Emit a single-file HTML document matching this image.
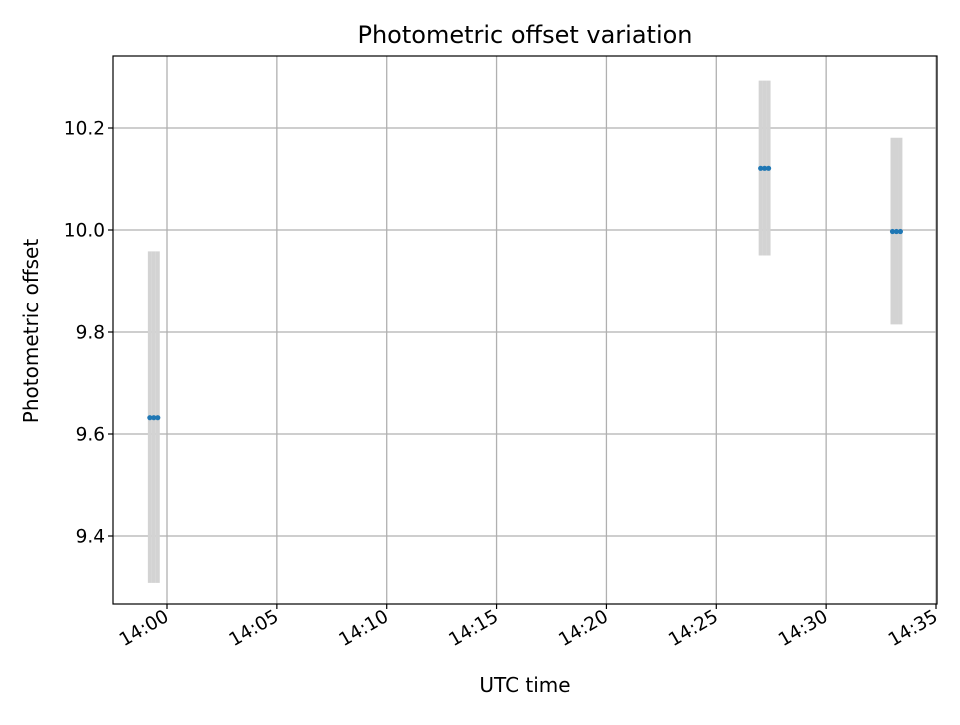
<!DOCTYPE html>
<html><head><meta charset="utf-8"><style>
body{margin:0;background:#fff;font-family:"Liberation Sans","DejaVu Sans",sans-serif;}
svg text{font-family:"DejaVu Sans","Liberation Sans",sans-serif;}
</style></head><body>
<svg id="chart" width="960" height="720" xmlns="http://www.w3.org/2000/svg">
<rect width="960" height="720" fill="#fff"/>
<g id="grid"></g><g id="marks"></g><g id="axes"></g>
<text x="525" y="43" font-size="24" text-anchor="middle">Photometric offset variation</text>
<text x="525" y="692" font-size="20" text-anchor="middle">UTC time</text>
<text x="38" y="331" font-size="20" text-anchor="middle" transform="rotate(-90 38 331)">Photometric offset</text>
</svg>
<script>
// times in minutes after 14:00 UTC
const times=[-0.78,-0.6,-0.42,27.02,27.2,27.38,33.02,33.2,33.38];
const offsets=[9.632,9.632,9.632,10.121,10.121,10.121,9.997,9.997,9.997];
const errLow=[9.308,9.308,9.308,9.950,9.950,9.950,9.815,9.815,9.815];
const errHigh=[9.958,9.958,9.958,10.293,10.293,10.293,10.181,10.181,10.181];
const xTickLabels=["14:00","14:05","14:10","14:15","14:20","14:25","14:30","14:35"];
const xTickValues=[0,5,10,15,20,25,30,35];
const yTickValues=[9.4,9.6,9.8,10.0,10.2];
const yTickLabels=["9.4","9.6","9.8","10.0","10.2"];
const L=113,R=937,T=56,B=604;
const x=t=>167+(t-0)*(936-167)/35;
const y=v=>230+(10.0-v)*(230-128)/0.2;
const NS="http://www.w3.org/2000/svg";
function mk(p,tag,at){const e=document.createElementNS(NS,tag);for(const k in at)e.setAttribute(k,at[k]);p.appendChild(e);return e;}
const grid=document.getElementById('grid'),marks=document.getElementById('marks'),axes=document.getElementById('axes');
xTickValues.forEach((v,i)=>{const X=x(v);
 const g=mk(grid,'line',{x1:X,x2:X,y1:T,y2:B,stroke:'#b0b0b0','stroke-width':1.3});
 
 
 mk(axes,'line',{x1:X,x2:X,y1:B,y2:B+5,stroke:'#000','stroke-width':1.2});
 const t=mk(axes,'text',{x:X+3,y:B+16,'font-size':18.5,'text-anchor':'end',transform:`rotate(-30 ${X+3} ${B+16})`});
 t.textContent=xTickLabels[i];
 
 
});
yTickValues.forEach((v,i)=>{const Y=y(v);
 const g=mk(grid,'line',{x1:L,x2:R,y1:Y,y2:Y,stroke:'#b0b0b0','stroke-width':1.3});
 
 
 mk(axes,'line',{x1:L-5,x2:L,y1:Y,y2:Y,stroke:'#000','stroke-width':1.2});
 const t=mk(axes,'text',{x:L-8,y:Y+6.5,'font-size':18.5,'text-anchor':'end'});
 t.textContent=yTickLabels[i];
 
 
});
times.forEach((t,i)=>{
 const e=mk(marks,'line',{x1:x(t),x2:x(t),y1:y(errLow[i]),y2:y(errHigh[i]),stroke:'#d3d3d3','stroke-width':4});
 
 
});
times.forEach((t,i)=>{
 const c=mk(marks,'circle',{cx:x(t),cy:y(offsets[i]),r:2.6,fill:'#1f77b4'});
 
 
});
const f=mk(axes,'rect',{x:L,y:T,width:R-L,height:B-T,fill:'none',stroke:'#000','stroke-width':1.2});


</script>
</body></html>
